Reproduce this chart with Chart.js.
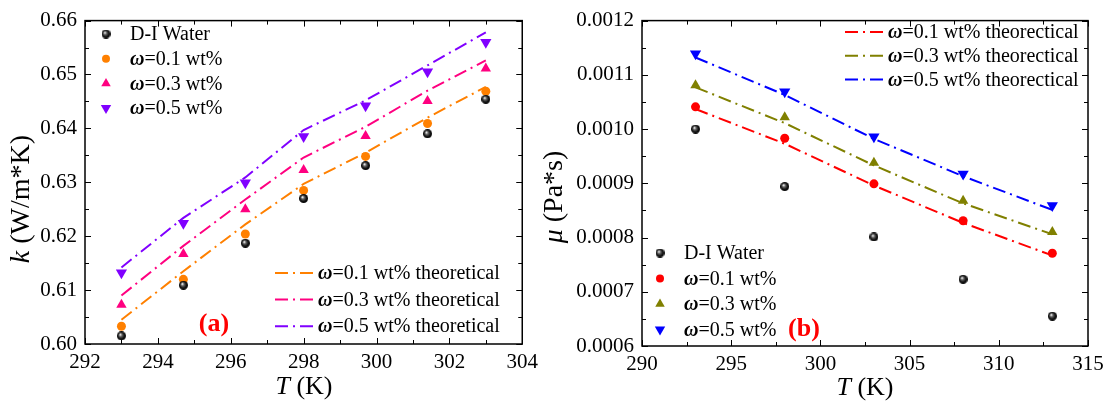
<!DOCTYPE html>
<html>
<head>
<meta charset="utf-8">
<script src="https://cdn.jsdelivr.net/npm/chart.js@4"></script>
<style>
  body { margin: 0; background: #fff; }
  .panel { position: absolute; top: 0; height: 406px; }
</style>
</head>
<body>
<div class="panel" style="left:0;width:544px"><canvas id="chartA" width="544" height="406"></canvas></div>
<div class="panel" style="left:540px;width:572px"><canvas id="chartB" width="572" height="406"></canvas></div>
<script>
/* ---------- data: panel (a) thermal conductivity ---------- */
const T_A      = [293, 294.7, 296.4, 298, 299.7, 301.4, 303];
const K_WATER  = [0.6015, 0.6109, 0.6187, 0.6270, 0.6331, 0.6390, 0.6454];
const K_01     = [0.6033, 0.6120, 0.6204, 0.6285, 0.6348, 0.6409, 0.6469];
const K_03     = [0.6073, 0.6167, 0.6250, 0.6323, 0.6386, 0.6451, 0.6511];
const K_05     = [0.6132, 0.6224, 0.6299, 0.6385, 0.6442, 0.6505, 0.6560];
const K_01_TH  = [0.6045, 0.6135, 0.6222, 0.6297, 0.6355, 0.6420, 0.6477];
const K_03_TH  = [0.6090, 0.6182, 0.6268, 0.6346, 0.6403, 0.6470, 0.6526];
const K_05_TH  = [0.6142, 0.6234, 0.6309, 0.6397, 0.6452, 0.6517, 0.6578];
const TICKS_A_X = [292, 294, 296, 298, 300, 302, 304];
const TICKS_A_Y = [0.60, 0.61, 0.62, 0.63, 0.64, 0.65, 0.66];

/* ---------- data: panel (b) viscosity ---------- */
const T_B       = [293, 298, 303, 308, 313];
const MU_WATER  = [0.001000, 0.000894, 0.000801, 0.000723, 0.000655];
const MU_01     = [0.001041, 0.000983, 0.000899, 0.000831, 0.000771];
const MU_03     = [0.001081, 0.001022, 0.000938, 0.000868, 0.000810];
const MU_05     = [0.001139, 0.001069, 0.000986, 0.000917, 0.000859];
const MU_01_TH  = [0.001037, 0.000973, 0.000896, 0.000827, 0.000767];
const MU_03_TH  = [0.001077, 0.001011, 0.000933, 0.000863, 0.000806];
const MU_05_TH  = [0.001132, 0.001063, 0.000982, 0.000913, 0.000851];
const TICKS_B_X = [290, 295, 300, 305, 310, 315];
const TICKS_B_Y = [0.0006, 0.0007, 0.0008, 0.0009, 0.0010, 0.0011, 0.0012];

const SERIF = "'Liberation Serif'";
const DASHDOT = [13, 5, 2, 5];

Chart.defaults.font.family = SERIF;
Chart.defaults.color = '#000';

/* shiny black ball used for the D-I water points */
function sphere(d) {
  const c = document.createElement('canvas');
  c.width = c.height = d;
  const g = c.getContext('2d');
  const grd = g.createRadialGradient(d * 0.36, d * 0.34, 0.3, d / 2, d / 2, d / 2);
  grd.addColorStop(0, '#ffffff');
  grd.addColorStop(0.3, '#666');
  grd.addColorStop(0.7, '#111');
  grd.addColorStop(1, '#000');
  g.fillStyle = grd;
  g.beginPath();
  g.arc(d / 2, d / 2, d / 2, 0, Math.PI * 2);
  g.fill();
  return c;
}
const BALL = sphere(9);

const xy = (xs, ys) => xs.map((x, i) => ({ x, y: ys[i] }));

function pts(label, xs, ys, color, style, r, rot) {
  return {
    label, data: xy(xs, ys), showLine: false,
    pointStyle: style, pointRadius: r, pointRotation: rot || 0,
    backgroundColor: color, borderColor: color, borderWidth: 0,
    kind: 'point'
  };
}
function line(label, xs, ys, color) {
  return {
    label, data: xy(xs, ys), showLine: true, pointRadius: 0,
    borderColor: color, backgroundColor: color, borderWidth: 2,
    borderDash: DASHDOT, tension: 0, kind: 'line'
  };
}

/* mixed-style text: [[text, style], ...] */
function richText(ctx, parts, x, y, size, align) {
  let w = 0;
  parts.forEach(p => { ctx.font = `${p[1] || 'normal'} ${size}px ${SERIF}`; w += ctx.measureText(p[0]).width; });
  let cx = align === 'center' ? x - w / 2 : x;
  ctx.textBaseline = 'middle';
  ctx.textAlign = 'left';
  parts.forEach(p => {
    ctx.font = `${p[1] || 'normal'} ${size}px ${SERIF}`;
    ctx.fillText(p[0], cx, y);
    cx += ctx.measureText(p[0]).width;
  });
}
function labelParts(s) {
  return s.startsWith('ω') ? [['ω', 'italic bold'], [s.slice(1), '']] : [[s, '']];
}

/* frame, inward ticks, legends, titles */
const deco = {
  id: 'deco',
  afterDatasetsDraw(chart, args, o) {
    const ctx = chart.ctx, a = chart.chartArea;
    const sx = chart.scales.x, sy = chart.scales.y;
    ctx.save();
    ctx.strokeStyle = '#000';
    ctx.lineWidth = 1.5;
    ctx.strokeRect(a.left, a.top, a.right - a.left, a.bottom - a.top);
    ctx.lineWidth = 1;
    const tick = (vals, len, horiz) => vals.forEach(v => {
      ctx.beginPath();
      if (horiz) {
        const p = Math.round(sx.getPixelForValue(v)) + 0.5;
        ctx.moveTo(p, a.bottom); ctx.lineTo(p, a.bottom - len);
        ctx.moveTo(p, a.top); ctx.lineTo(p, a.top + len);
      } else {
        const p = Math.round(sy.getPixelForValue(v)) + 0.5;
        ctx.moveTo(a.left, p); ctx.lineTo(a.left + len, p);
        ctx.moveTo(a.right, p); ctx.lineTo(a.right - len, p);
      }
      ctx.stroke();
    });
    const mid = v => v.slice(1).map((b, i) => (v[i] + b) / 2);
    tick(o.xt, 6, true); tick(mid(o.xt), 4, true);
    tick(o.yt, 6, false); tick(mid(o.yt), 4, false);
    ctx.restore();
  },
  afterDraw(chart, args, o) {
    const ctx = chart.ctx;
    ctx.save();
    ctx.fillStyle = '#000';
    o.legends.forEach(L => {
      L.items.forEach((di, k) => {
        const ds = chart.data.datasets[di];
        const y = L.y + k * L.dy;
        if (ds.kind === 'line') {
          ctx.save();
          ctx.strokeStyle = ds.borderColor;
          ctx.lineWidth = 2;
          ctx.setLineDash(DASHDOT);
          ctx.beginPath();
          ctx.moveTo(L.x, y); ctx.lineTo(L.x + 38, y);
          ctx.stroke();
          ctx.restore();
          ctx.fillStyle = '#000';
          richText(ctx, labelParts(ds.label), L.x + 43, y + 1, 20);
        } else {
          ctx.save();
          ctx.fillStyle = ds.backgroundColor;
          ctx.strokeStyle = ds.backgroundColor;
          Chart.helpers.drawPoint(ctx, {
            pointStyle: ds.pointStyle, radius: ds.pointRadius - 0.5,
            rotation: ds.pointRotation, borderWidth: 0
          }, L.x, y);
          ctx.restore();
          ctx.fillStyle = '#000';
          richText(ctx, labelParts(ds.label), L.x + 24, y + 1, 20);
        }
      });
    });
    ctx.fillStyle = '#000';
    richText(ctx, o.xTitle.parts, o.xTitle.x, o.xTitle.y, 26, 'center');
    ctx.save();
    ctx.translate(o.yTitle.x, o.yTitle.y);
    ctx.rotate(-Math.PI / 2);
    richText(ctx, o.yTitle.parts, 0, 0, 28, 'center');
    ctx.restore();
    ctx.fillStyle = '#ff0000';
    ctx.font = `bold 26px ${SERIF}`;
    ctx.textAlign = 'center';
    ctx.textBaseline = 'middle';
    ctx.fillText(o.tag.text, o.tag.x, o.tag.y);
    ctx.restore();
  }
};

function axes(xmin, xmax, xstep, ymin, ymax, ystep, dec, yw, xh) {
  const tk = { font: { family: SERIF, size: 21 }, color: '#000', autoSkip: false, maxRotation: 0 };
  return {
    x: {
      type: 'linear', min: xmin, max: xmax,
      ticks: Object.assign({ stepSize: xstep, padding: 6 }, tk),
      grid: { display: false, drawTicks: false }, border: { display: false },
      afterFit: s => { s.height = xh; }
    },
    y: {
      type: 'linear', min: ymin, max: ymax,
      ticks: Object.assign({ stepSize: ystep, padding: 8, callback: v => v.toFixed(dec) }, tk),
      grid: { display: false, drawTicks: false }, border: { display: false },
      afterFit: s => { s.width = yw; }
    }
  };
}

/* ---------- (a) ---------- */
new Chart(document.getElementById('chartA'), {
  type: 'scatter',
  data: {
    datasets: [
      line('ω=0.1 wt% theoretical', T_A, K_01_TH, '#ff8000'),
      line('ω=0.3 wt% theoretical', T_A, K_03_TH, '#ff0080'),
      line('ω=0.5 wt% theoretical', T_A, K_05_TH, '#8000ff'),
      pts('D-I Water', T_A, K_WATER, '#000', BALL, 4.5),
      pts('ω=0.1 wt%', T_A, K_01, '#ff8000', 'circle', 4.5),
      pts('ω=0.3 wt%', T_A, K_03, '#ff0080', 'triangle', 6),
      pts('ω=0.5 wt%', T_A, K_05, '#8000ff', 'triangle', 6.5, 180)
    ]
  },
  options: {
    responsive: false, animation: false, devicePixelRatio: 1,
    layout: { padding: { left: 0, right: 21, top: 18, bottom: 0 } },
    scales: axes(292, 304, 2, 0.60, 0.66, 0.01, 2, 85, 62),
    plugins: {
      legend: { display: false }, tooltip: { enabled: false },
      deco: {
        xt: TICKS_A_X, yt: TICKS_A_Y,
        legends: [
          { x: 106, y: 34, dy: 24.7, items: [3, 4, 5, 6] },
          { x: 275, y: 273, dy: 26.6, items: [0, 1, 2] }
        ],
        xTitle: { parts: [['T', 'italic'], [' (K)', '']], x: 304, y: 387 },
        yTitle: { parts: [['k', 'italic'], [' (W/m*K)', '']], x: 22, y: 199 },
        tag: { text: '(a)', x: 214, y: 324 }
      }
    }
  },
  plugins: [deco]
});

/* ---------- (b) ---------- */
new Chart(document.getElementById('chartB'), {
  type: 'scatter',
  data: {
    datasets: [
      line('ω=0.1 wt% theorectical', T_B, MU_01_TH, '#ff0000'),
      line('ω=0.3 wt% theorectical', T_B, MU_03_TH, '#808000'),
      line('ω=0.5 wt% theorectical', T_B, MU_05_TH, '#0000ff'),
      pts('D-I Water', T_B, MU_WATER, '#000', BALL, 4.5),
      pts('ω=0.1 wt%', T_B, MU_01, '#ff0000', 'circle', 4.5),
      pts('ω=0.3 wt%', T_B, MU_03, '#808000', 'triangle', 6),
      pts('ω=0.5 wt%', T_B, MU_05, '#0000ff', 'triangle', 6.5, 180)
    ]
  },
  options: {
    responsive: false, animation: false, devicePixelRatio: 1,
    layout: { padding: { left: 0, right: 24, top: 13, bottom: 0 } },
    scales: axes(290, 315, 5, 0.0006, 0.0012, 0.0001, 4, 102, 60),
    plugins: {
      legend: { display: false }, tooltip: { enabled: false },
      deco: {
        xt: TICKS_B_X, yt: TICKS_B_Y,
        legends: [
          { x: 305, y: 32, dy: 23.7, items: [0, 1, 2] },
          { x: 120, y: 253, dy: 25.5, items: [3, 4, 5, 6] }
        ],
        xTitle: { parts: [['T', 'italic'], [' (K)', '']], x: 325, y: 388 },
        yTitle: { parts: [['μ', 'italic'], [' (Pa*s)', '']], x: 15, y: 197 },
        tag: { text: '(b)', x: 264, y: 329 }
      }
    }
  },
  plugins: [deco]
});
</script>
</body>
</html>
